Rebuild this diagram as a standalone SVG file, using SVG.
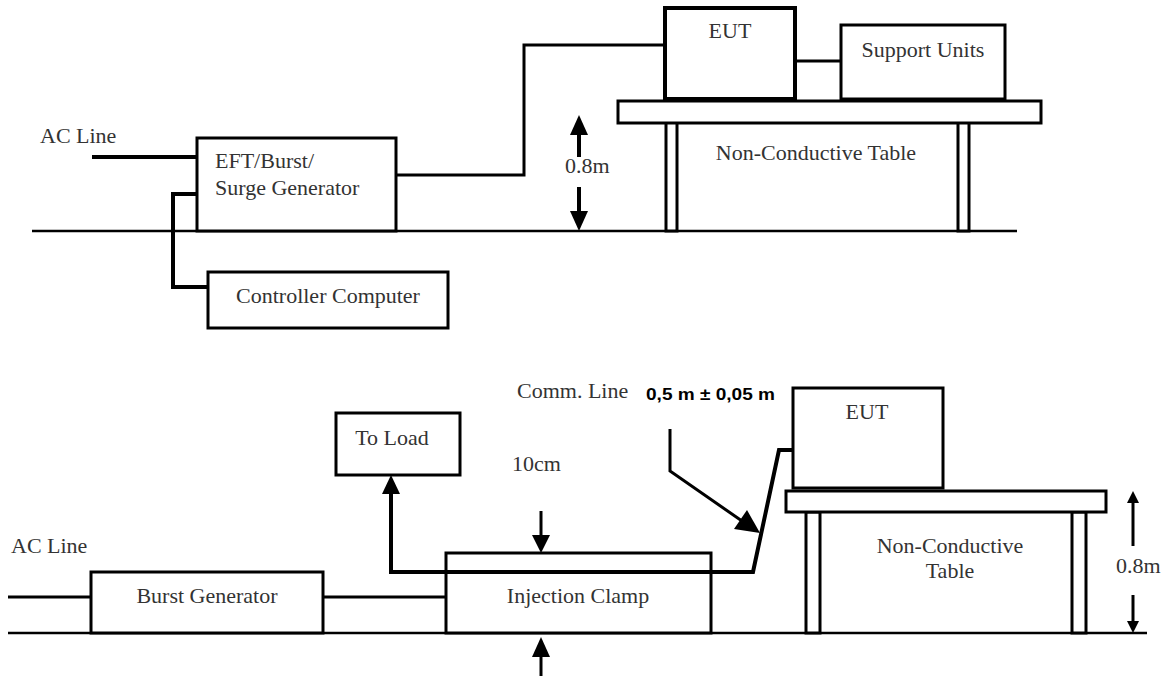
<svg xmlns="http://www.w3.org/2000/svg" width="1172" height="676" viewBox="0 0 1172 676">
<style>
.t{font-family:"Liberation Serif","Times New Roman",serif;font-size:22px;fill:#333}
.m{text-anchor:middle}
.b{fill:#fff;stroke:#000;stroke-width:3}
.bt{fill:#fff;stroke:#000;stroke-width:4}
.w{fill:none;stroke:#000;stroke-width:3}
.wt{fill:none;stroke:#000;stroke-width:4}
.g{fill:none;stroke:#000;stroke-width:2.5}
.h{fill:#000;stroke:none}
</style>
<rect width="1172" height="676" fill="#fff"/>

<!-- TOP SETUP -->
<g id="ground-top"><line class="g" x1="32" y1="231" x2="1017" y2="231"/></g>
<g id="table-top">
  <rect class="b" x="666" y="119" width="11" height="112"/>
  <rect class="b" x="958" y="119" width="11" height="112"/>
  <rect class="b" x="618" y="101" width="423" height="22"/>
  <text class="t m" x="816" y="160">Non-Conductive Table</text>
</g>
<g id="eft-gen">
  <rect class="b" x="197" y="138" width="199" height="93"/>
  <text class="t" x="215" y="168">EFT/Burst/</text>
  <text class="t" x="215" y="195">Surge Generator</text>
</g>
<g id="controller">
  <rect class="b" x="208" y="272" width="240" height="56"/>
  <text class="t m" x="328" y="303">Controller Computer</text>
</g>
<g id="eut-top">
  <rect class="bt" x="665" y="8" width="130" height="91"/>
  <text class="t m" x="730" y="38">EUT</text>
</g>
<g id="support">
  <rect class="b" x="841" y="25" width="164" height="74"/>
  <text class="t m" x="923" y="57">Support Units</text>
</g>
<g id="labels-top">
  <text class="t" x="40" y="143">AC Line</text>
  <text class="t" x="565" y="173">0.8m</text>
</g>
<g id="connectors-top">
  <line class="wt" x1="92" y1="157" x2="197" y2="157"/>
  <polyline class="wt" points="197,194 173,194 173,287 208,287"/>
  <polyline class="w" points="396,175 524,175 524,45 665,45"/>
  <line class="w" x1="795" y1="61" x2="841" y2="61"/>
  <line class="wt" x1="579" y1="133" x2="579" y2="157"/>
  <polygon class="h" points="579,115 570,135 588,135"/>
  <line class="wt" x1="579" y1="187" x2="579" y2="213"/>
  <polygon class="h" points="579,231 570,211 588,211"/>
</g>

<!-- BOTTOM SETUP -->
<g id="ground-bottom"><line class="g" x1="8" y1="633" x2="1147" y2="633"/></g>
<g id="table-bottom">
  <rect class="b" x="806" y="512" width="14" height="121"/>
  <rect class="b" x="1072" y="512" width="14" height="121"/>
  <rect class="b" x="786" y="491" width="320" height="21"/>
  <text class="t m" x="950" y="553">Non-Conductive</text>
  <text class="t m" x="950" y="578">Table</text>
</g>
<g id="burst-gen">
  <rect class="b" x="91" y="572" width="232" height="61"/>
  <text class="t m" x="207" y="603">Burst Generator</text>
</g>
<g id="clamp">
  <rect class="b" x="446" y="553" width="265" height="80"/>
  <text class="t m" x="578" y="603">Injection Clamp</text>
</g>
<g id="to-load">
  <rect class="b" x="336" y="413" width="124" height="62"/>
  <text class="t m" x="392" y="445">To Load</text>
</g>
<g id="eut-bottom">
  <rect class="b" x="793" y="388" width="150" height="100"/>
  <text class="t m" x="867" y="419">EUT</text>
</g>
<g id="labels-bottom">
  <text class="t" x="11" y="553">AC Line</text>
  <text class="t" x="512" y="471">10cm</text>
  <text class="t" x="517" y="398">Comm. Line</text>
  <text x="646" y="400" font-family="Liberation Sans, Arial, sans-serif" font-size="16" font-weight="bold" fill="#000" textLength="129" lengthAdjust="spacingAndGlyphs">0,5 m ± 0,05 m</text>
  <text class="t" x="1116" y="573">0.8m</text>
</g>
<g id="connectors-bottom">
  <line class="w" x1="8" y1="597" x2="91" y2="597"/>
  <line class="w" x1="323" y1="597" x2="446" y2="597"/>
  <polyline class="wt" points="391,493 391,572 753,572 779,450 793,450"/>
  <polygon class="h" points="391,475 382,494 400,494"/>
  <line class="w" x1="541" y1="511" x2="541" y2="537"/>
  <polygon class="h" points="541,553 532,535 550,535"/>
  <line class="w" x1="541" y1="655" x2="541" y2="676"/>
  <polygon class="h" points="541,637 532,657 550,657"/>
  <polyline class="w" points="670,429 670,471 742,521"/>
  <polygon class="h" points="760,533 734,529 747,510"/>
  <line class="w" x1="1133" y1="500" x2="1133" y2="546"/>
  <polygon class="h" points="1133,491 1127,503 1139,503"/>
  <line class="w" x1="1133" y1="595" x2="1133" y2="624"/>
  <polygon class="h" points="1133,633 1127,621 1139,621"/>
</g>
</svg>
